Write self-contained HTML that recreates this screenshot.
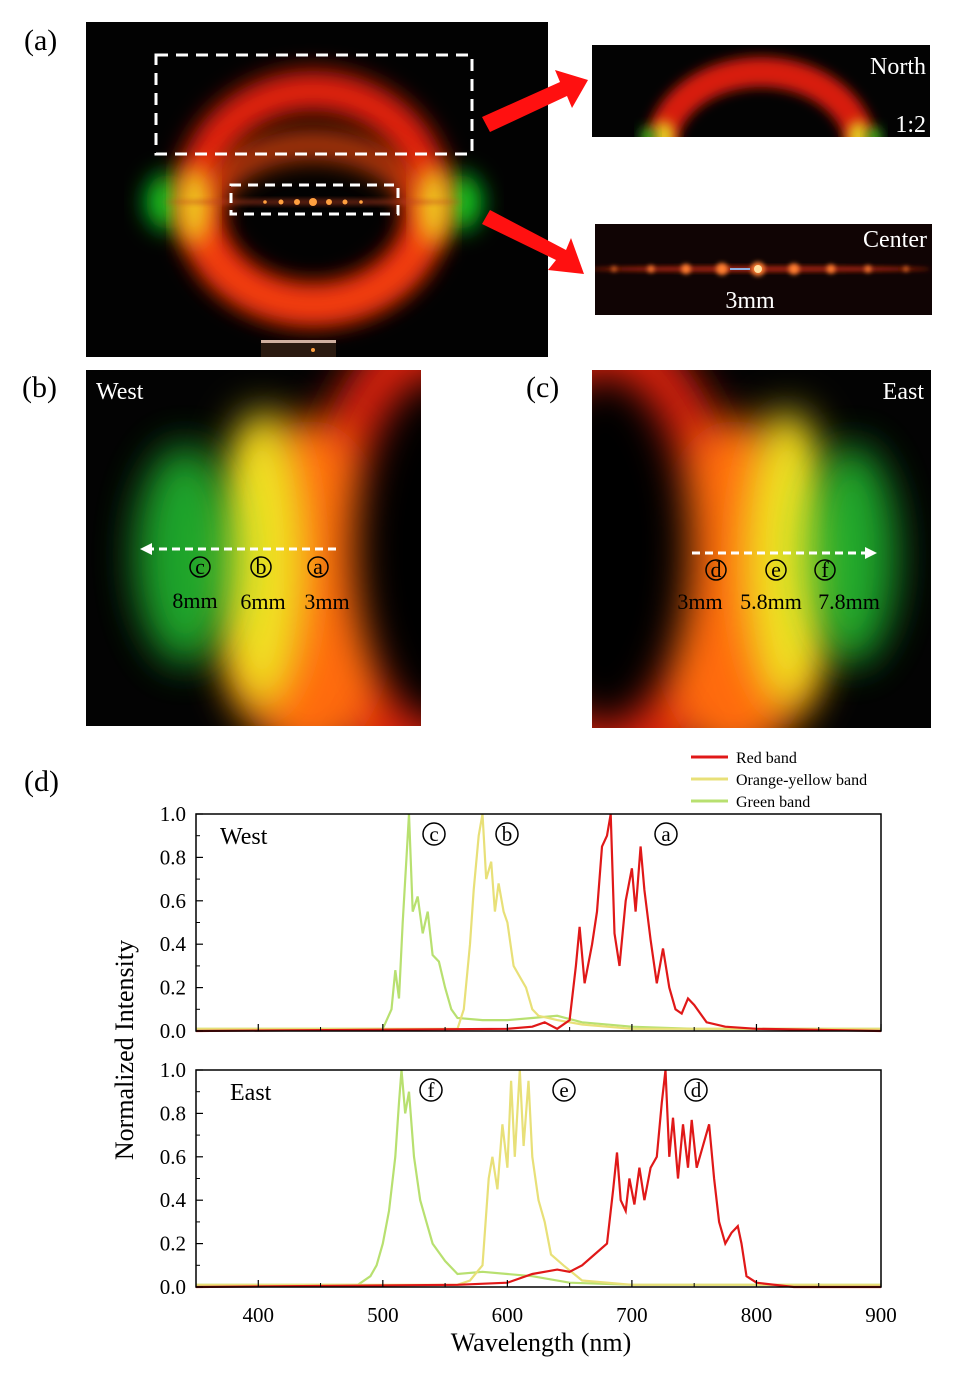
<!DOCTYPE html>
<html><head><meta charset="utf-8">
<style>
html,body{margin:0;padding:0;background:#fff;}
body{width:975px;height:1394px;position:relative;overflow:hidden;font-family:"Liberation Serif",serif;}
svg{position:absolute;left:0;top:0;}
</style></head>
<body>
<svg id="fig" width="975" height="1394" viewBox="0 0 975 1394">
<defs>
<filter id="b6" x="-50%" y="-50%" width="200%" height="200%"><feGaussianBlur stdDeviation="6"/></filter>
<filter id="b12" x="-50%" y="-50%" width="200%" height="200%"><feGaussianBlur stdDeviation="12"/></filter>
<filter id="b20" x="-50%" y="-50%" width="200%" height="200%"><feGaussianBlur stdDeviation="20"/></filter>
<filter id="b3" x="-50%" y="-50%" width="200%" height="200%"><feGaussianBlur stdDeviation="2.5"/></filter>
<clipPath id="ca"><rect x="86" y="22" width="462" height="335"/></clipPath>
<clipPath id="cn"><rect x="592" y="45" width="338" height="92"/></clipPath>
<clipPath id="cc"><rect x="595" y="224" width="337" height="91"/></clipPath>
<clipPath id="cb"><rect x="86" y="370" width="335" height="356"/></clipPath>
<clipPath id="ce"><rect x="592" y="370" width="339" height="358"/></clipPath>
</defs>

<g>
<text x="24" y="50" font-size="30">(a)</text>
<g clip-path="url(#ca)">
<rect x="86" y="22" width="462" height="335" fill="#020202"/>
<ellipse cx="168" cy="202" rx="22" ry="28" fill="#10d020" filter="url(#b12)"/>
<ellipse cx="460" cy="202" rx="22" ry="28" fill="#10d020" filter="url(#b12)"/>
<ellipse cx="313" cy="198" rx="117" ry="107" fill="none" stroke="#e82010" stroke-width="40" filter="url(#b12)"/>
<ellipse cx="313" cy="225" rx="110" ry="80" fill="none" stroke="#ff5010" stroke-width="30" filter="url(#b12)" opacity="0.7"/>
<ellipse cx="194" cy="205" rx="14" ry="40" fill="#f0e020" filter="url(#b12)"/>
<ellipse cx="434" cy="205" rx="14" ry="40" fill="#f0e020" filter="url(#b12)"/>
<ellipse cx="313" cy="202" rx="150" ry="3" fill="#c04020" filter="url(#b3)" opacity="0.5"/>
<g fill="#ffa040">
<circle cx="313" cy="202" r="4"/><circle cx="297" cy="202" r="3"/><circle cx="329" cy="202" r="3"/>
<circle cx="281" cy="202" r="2.5"/><circle cx="345" cy="202" r="2.5"/><circle cx="265" cy="202" r="1.8"/><circle cx="361" cy="202" r="1.8"/></g>
<rect x="261" y="340" width="75" height="3" fill="#d0b0a0"/>
<rect x="261" y="343" width="75" height="14" fill="#2a1a10"/>
<circle cx="313" cy="350" r="2" fill="#ffa040"/>
</g>
<rect x="156" y="55" width="316" height="99" fill="none" stroke="#fff" stroke-width="3" stroke-dasharray="12,8"/>
<rect x="231" y="185" width="167" height="29" fill="none" stroke="#fff" stroke-width="3" stroke-dasharray="10,7"/>
<polygon points="482,117 560,82 555,70 588,80 572,108 567,96 490,132" fill="#ff1010"/>
<polygon points="490,210 566,250 571,238 584,274 548,270 556,260 482,224" fill="#ff1010"/>
</g>

<g clip-path="url(#cn)">
<rect x="592" y="45" width="338" height="92" fill="#030303"/>
<ellipse cx="761" cy="150" rx="100" ry="78" fill="none" stroke="#d81a10" stroke-width="30" filter="url(#b6)"/>
<ellipse cx="664" cy="137" rx="10" ry="16" fill="#e0d020" filter="url(#b6)"/>
<ellipse cx="858" cy="137" rx="10" ry="16" fill="#e0d020" filter="url(#b6)"/>
<ellipse cx="648" cy="137" rx="7" ry="10" fill="#20c020" filter="url(#b6)"/>
<ellipse cx="874" cy="137" rx="7" ry="10" fill="#20c020" filter="url(#b6)"/>
</g>
<text x="926" y="74" font-size="24" fill="#fff" text-anchor="end">North</text>
<text x="926" y="132" font-size="24" fill="#fff" text-anchor="end">1:2</text>

<g clip-path="url(#cc)">
<rect x="595" y="224" width="337" height="91" fill="#100404"/>
<ellipse cx="760" cy="269" rx="170" ry="3" fill="#a02010" filter="url(#b3)"/>
<g fill="#ff8030" filter="url(#b3)">
<circle cx="758" cy="269" r="7"/><circle cx="722" cy="269" r="6"/><circle cx="794" cy="269" r="5.5"/>
<circle cx="686" cy="269" r="5"/><circle cx="831" cy="269" r="4.5"/><circle cx="651" cy="269" r="3.5"/><circle cx="868" cy="269" r="3.5"/><circle cx="614" cy="269" r="2.5"/><circle cx="906" cy="269" r="2.5"/></g>
<circle cx="758" cy="269" r="4" fill="#ffe0a0"/>
<line x1="730" y1="269" x2="750" y2="269" stroke="#90b0e0" stroke-width="2"/>
</g>
<text x="927" y="247" font-size="24" fill="#fff" text-anchor="end">Center</text>
<text x="750" y="308" font-size="24" fill="#fff" text-anchor="middle">3mm</text>

<text x="22" y="397" font-size="30">(b)</text>
<g clip-path="url(#cb)">
<rect x="86" y="370" width="335" height="356" fill="#030303"/>
<ellipse cx="470" cy="560" rx="170" ry="260" fill="#e02010" filter="url(#b20)"/>
<ellipse cx="310" cy="590" rx="90" ry="170" fill="#ff6a10" filter="url(#b20)"/>
<ellipse cx="262" cy="560" rx="45" ry="150" fill="#f0e020" filter="url(#b20)"/>
<ellipse cx="185" cy="555" rx="50" ry="110" fill="#20c030" filter="url(#b20)" opacity="0.85"/>
<ellipse cx="440" cy="550" rx="85" ry="175" fill="#050202" filter="url(#b20)"/>
</g>
<text x="96" y="399" font-size="24" fill="#fff">West</text>
<line x1="336" y1="549" x2="148" y2="549" stroke="#fff" stroke-width="3" stroke-dasharray="8,5"/>
<polygon points="140,549 152,543 152,555" fill="#fff"/>
<g font-size="22" text-anchor="middle">
<circle cx="200" cy="567" r="10" fill="none" stroke="#000" stroke-width="1.5"/><text x="200" y="574">c</text>
<circle cx="261" cy="567" r="10" fill="none" stroke="#000" stroke-width="1.5"/><text x="261" y="574">b</text>
<circle cx="318" cy="567" r="10" fill="none" stroke="#000" stroke-width="1.5"/><text x="318" y="574">a</text>
<text x="195" y="608">8mm</text><text x="263" y="609">6mm</text><text x="327" y="609">3mm</text>
</g>

<text x="526" y="397" font-size="30">(c)</text>
<g clip-path="url(#ce)">
<rect x="592" y="370" width="339" height="358" fill="#030303"/>
<ellipse cx="555" cy="560" rx="190" ry="265" fill="#e02010" filter="url(#b20)"/>
<ellipse cx="735" cy="590" rx="90" ry="170" fill="#ff6a10" filter="url(#b20)"/>
<ellipse cx="788" cy="560" rx="45" ry="150" fill="#f0e020" filter="url(#b20)"/>
<ellipse cx="852" cy="555" rx="45" ry="110" fill="#20c030" filter="url(#b20)" opacity="0.85"/>
<ellipse cx="605" cy="550" rx="85" ry="175" fill="#050202" filter="url(#b20)"/>
</g>
<text x="924" y="399" font-size="24" fill="#fff" text-anchor="end">East</text>
<line x1="692" y1="553" x2="868" y2="553" stroke="#fff" stroke-width="3" stroke-dasharray="8,5"/>
<polygon points="877,553 865,547 865,559" fill="#fff"/>
<g font-size="22" text-anchor="middle">
<circle cx="716" cy="570" r="10" fill="none" stroke="#000" stroke-width="1.5"/><text x="716" y="577">d</text>
<circle cx="776" cy="570" r="10" fill="none" stroke="#000" stroke-width="1.5"/><text x="776" y="577">e</text>
<circle cx="825" cy="570" r="10" fill="none" stroke="#000" stroke-width="1.5"/><text x="825" y="577">f</text>
<text x="700" y="609">3mm</text><text x="771" y="609">5.8mm</text><text x="849" y="609">7.8mm</text>
</g>

<text x="24" y="791" font-size="30">(d)</text>
<g font-size="16">
<line x1="691" y1="757" x2="728" y2="757" stroke="#e01818" stroke-width="3"/><text x="736" y="763">Red band</text>
<line x1="691" y1="779" x2="728" y2="779" stroke="#e8e078" stroke-width="3"/><text x="736" y="785">Orange-yellow band</text>
<line x1="691" y1="801" x2="728" y2="801" stroke="#b8e070" stroke-width="3"/><text x="736" y="807">Green band</text>
</g>
<text transform="translate(133,1050) rotate(-90)" font-size="26" text-anchor="middle">Normalized Intensity</text>
<text x="541" y="1351" font-size="26" text-anchor="middle">Wavelength (nm)</text>
<g id="plots"></g>
</svg>
<script>
const xTicks=[400,500,600,700,800,900];
const yTicks=[0,0.2,0.4,0.6,0.8,1.0];
const westRedX=[350,600,620,630,640,650,655,658,662,668,672,676,680,683,686,690,695,700,703,707,710,715,720,725,730,735,740,745,750,760,775,800,900];
const westRedY=[0,0.01,0.02,0.04,0.01,0.05,0.3,0.48,0.22,0.4,0.55,0.85,0.9,1.0,0.45,0.3,0.6,0.75,0.55,0.85,0.65,0.42,0.22,0.38,0.2,0.1,0.08,0.15,0.12,0.04,0.02,0.01,0];
const westOrX=[350,560,565,570,573,577,580,583,587,590,593,597,600,605,610,615,620,625,640,660,700,900];
const westOrY=[0.01,0.01,0.1,0.4,0.65,0.9,1.0,0.7,0.78,0.55,0.68,0.55,0.5,0.3,0.25,0.2,0.1,0.07,0.05,0.03,0.01,0.01];
const westGrX=[350,500,507,510,513,516,519,521,524,528,532,536,540,545,550,555,560,580,600,620,640,660,700,750,900];
const westGrY=[0.01,0.01,0.1,0.28,0.15,0.5,0.8,1.0,0.55,0.62,0.45,0.55,0.35,0.32,0.2,0.1,0.06,0.05,0.05,0.06,0.07,0.04,0.02,0.01,0.01];
const eastRedX=[350,560,600,620,640,650,660,670,680,685,688,691,695,698,702,706,710,715,720,724,727,730,733,737,741,745,748,752,757,762,766,770,775,780,785,788,792,800,830,900];
const eastRedY=[0,0.01,0.02,0.06,0.08,0.07,0.1,0.15,0.2,0.45,0.62,0.4,0.35,0.5,0.38,0.55,0.4,0.55,0.6,0.85,1.0,0.6,0.78,0.5,0.75,0.55,0.77,0.55,0.65,0.75,0.5,0.3,0.2,0.25,0.28,0.2,0.05,0.02,0,0];
const eastOrX=[350,560,570,580,585,588,592,596,600,603,606,610,613,617,620,625,630,635,645,660,700,900];
const eastOrY=[0.01,0.01,0.03,0.1,0.5,0.6,0.45,0.75,0.55,0.95,0.6,1.0,0.65,0.95,0.6,0.4,0.3,0.15,0.1,0.03,0.01,0.01];
const eastGrX=[350,480,490,495,500,505,510,513,515,518,521,525,530,535,540,550,560,580,600,620,650,700,900];
const eastGrY=[0.01,0.01,0.05,0.1,0.2,0.35,0.6,0.85,1.0,0.8,0.9,0.6,0.4,0.3,0.2,0.12,0.06,0.07,0.06,0.05,0.02,0.01,0.01];
const letterW=[["c",434],["b",507],["a",666]];
const letterE=[["f",431],["e",564],["d",696]];
const NS='http://www.w3.org/2000/svg';
const root=document.getElementById('plots');
const L=196,R=881;
function sx(v){return L+(v-350)/(900-350)*(R-L);}
function mk(tag,attrs,parent){const e=document.createElementNS(NS,tag);for(const k in attrs)e.setAttribute(k,attrs[k]);parent.appendChild(e);return e;}
function panel(top,bot,title,series,letters,showX,name){
  const g=mk('g',{},root);
  
  
  const sy=v=>bot-v*(bot-top);
  const colors=['#e01818','#e8e078','#b8e070'];
  [2,1,0].forEach(i=>{
    const s=series[i];
    const d=s[0].map((x,j)=>(j?'L':'M')+sx(x).toFixed(1)+','+sy(s[1][j]).toFixed(1)).join('');
    const p=mk('path',{d:d,fill:'none',stroke:colors[i],'stroke-width':2.2},g);
    
    
  });
  mk('rect',{x:L,y:top,width:R-L,height:bot-top,fill:'none',stroke:'#000','stroke-width':1.5},g);
  yTicks.forEach(v=>{
    mk('line',{x1:L,x2:L+7,y1:sy(v),y2:sy(v),stroke:'#000','stroke-width':1.2},g);
    if(v<0.95) mk('line',{x1:L,x2:L+4,y1:sy(v+0.1),y2:sy(v+0.1),stroke:'#000','stroke-width':1}, g);
    const t=mk('text',{x:L-10,y:sy(v)+7,'font-size':21,'text-anchor':'end'},g);t.textContent=v.toFixed(1);
    
    
  });
  xTicks.forEach(v=>{
    mk('line',{x1:sx(v),x2:sx(v),y1:bot,y2:bot-7,stroke:'#000','stroke-width':1.2},g);
    mk('line',{x1:sx(v-50),x2:sx(v-50),y1:bot,y2:bot-4,stroke:'#000','stroke-width':1},g);
    if(showX){const t=mk('text',{x:sx(v),y:bot+35,'font-size':21,'text-anchor':'middle'},g);t.textContent=v;
      
      }
  });
  const tt=mk('text',{x:title[1],y:top+30,'font-size':24},g);tt.textContent=title[0];
  
  
  letters.forEach(l=>{
    mk('circle',{cx:l[1],cy:top+20,r:11,fill:'none',stroke:'#000','stroke-width':1.5},g);
    const t=mk('text',{x:l[1],y:top+27,'font-size':21,'text-anchor':'middle'},g);t.textContent=l[0];
    
    
  });
}
panel(814,1031,['West',220],[[westRedX,westRedY],[westOrX,westOrY],[westGrX,westGrY]],letterW,false,'west-spectrum-chart');
panel(1070,1287,['East',230],[[eastRedX,eastRedY],[eastOrX,eastOrY],[eastGrX,eastGrY]],letterE,true,'east-spectrum-chart');
</script>
</body></html>
